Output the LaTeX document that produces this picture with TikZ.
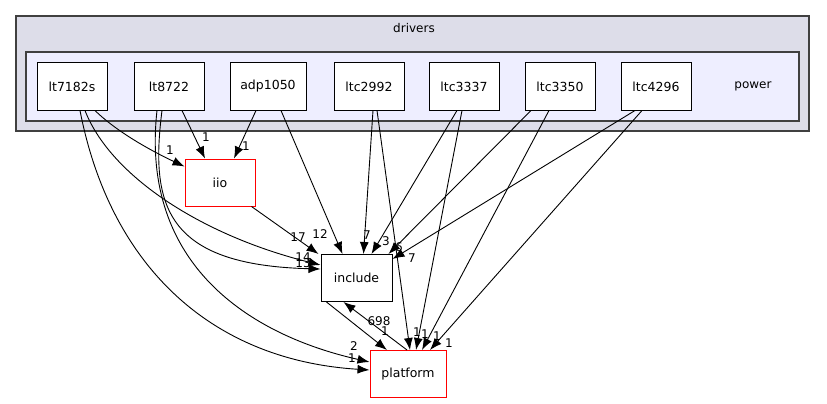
\documentclass[tikz,border=0pt]{standalone}
\usepackage{fontspec}
\setmainfont{DejaVu Sans}
\usetikzlibrary{arrows.meta}
\definecolor{outerfill}{RGB}{221,221,233}
\definecolor{innerfill}{RGB}{238,238,255}
\definecolor{clusterline}{RGB}{64,64,64}

\begin{document}
\begin{tikzpicture}[
  x=1pt, y=-1pt,
  dirbox/.style={draw, line width=1pt, fill=white, minimum width=70pt, minimum height=47pt, inner sep=0pt, font=\fontsize{12.5}{14}\selectfont},
  extbox/.style={dirbox, draw=red},
  dep/.style={draw, line width=0.9pt, -{Latex[length=12pt,width=9pt]}},
  lbl/.style={font=\fontsize{12}{14}\selectfont, inner sep=0pt}
]
\useasboundingbox (0,0) rectangle (827,404);

% clusters
\draw[fill=outerfill, draw=clusterline, line width=1.3pt] (16,16) rectangle (809,131);
\node[lbl] (drivers) at (414,28) {drivers};
\draw[fill=innerfill, draw=clusterline, line width=1.3pt] (26,52) rectangle (799,121);
\node[lbl] (power) at (753,86) {power};

% directories
\node[dirbox] (lt7182s) at (72,86.5) {lt7182s};
\node[dirbox] (lt8722) at (169,86.5) {lt8722};
\node[dirbox, minimum width=76pt] (adp1050) at (268,86.5) {adp1050};
\node[dirbox] (ltc2992) at (369,86.5) {ltc2992};
\node[dirbox] (ltc3337) at (464,86.5) {ltc3337};
\node[dirbox] (ltc3350) at (560,86.5) {ltc3350};
\node[dirbox] (ltc4296) at (656,86.5) {ltc4296};
\node[extbox] (iio) at (220,182.5) {iio};
\node[dirbox, minimum width=71pt] (include) at (356.5,278) {include};
\node[extbox, minimum width=76pt] (platform) at (408,374) {platform};

% dependencies
\draw[dep] ([xshift=23pt]lt7182s.south) .. controls (120,135) and (160,155) .. ([yshift=-8pt]iio.north west);
\draw[dep] ([xshift=13pt]lt7182s.south) .. controls (110,175) and (200,235) .. ([yshift=-11pt]include.north west);
\draw[dep] ([xshift=8pt]lt7182s.south) .. controls (110,265) and (210,360) .. ([yshift=-20pt]platform.north west);
\draw[dep] ([xshift=13pt]lt8722.south) -- ([xshift=-15pt]iio.north);
\draw[dep] ([xshift=-7pt]lt8722.south) .. controls (150,205) and (165,265) .. ([yshift=-15pt]include.north west);
\draw[dep] ([xshift=-12pt]lt8722.south) .. controls (140,265) and (250,335) .. ([yshift=-12pt]platform.north west);
\draw[dep] ([xshift=-12pt]adp1050.south) -- ([xshift=14pt]iio.north);
\draw[dep] ([xshift=13pt]adp1050.south) -- ([xshift=-14pt]include.north);
\draw[dep] ([xshift=4pt]ltc2992.south) -- ([xshift=7pt]include.north);
\draw[dep] ([xshift=8pt]ltc2992.south) -- ([xshift=2pt]platform.north);
\draw[dep] ([xshift=-7pt]ltc3337.south) -- ([xshift=15pt]include.north);
\draw[dep] ([xshift=-2pt]ltc3337.south) -- ([xshift=8pt]platform.north);
\draw[dep] ([xshift=-29pt]ltc3350.south) -- ([xshift=-4pt]include.north east);
\draw[dep] ([xshift=-11pt]ltc3350.south) -- ([xshift=14pt]platform.north);
\draw[dep] ([xshift=-21pt]ltc4296.south) -- ([yshift=-5pt]include.north east);
\draw[dep] ([xshift=-14pt]ltc4296.south) -- ([xshift=22pt]platform.north);
\draw[dep] ([xshift=-4pt]iio.south east) -- ([xshift=-2pt]include.north west);
\draw[dep] ([xshift=6pt]include.south west) -- ([xshift=-21pt]platform.north);
\draw[dep] ([xshift=-1pt]platform.north) -- ([xshift=23pt]include.south west);

% labels
\node[lbl] (n1) at (170,150) {1};
\node[lbl] (n2) at (206,137) {1};
\node[lbl] (n3) at (246,146) {1};
\node[lbl] (n4) at (298,237) {17};
\node[lbl] (n5) at (303,257) {14};
\node[lbl] (n6) at (303,263) {13};
\node[lbl] (n7) at (320,234) {12};
\node[lbl] (n8) at (367,235) {7};
\node[lbl] (n9) at (386,241) {3};
\node[lbl] (n10) at (399,247) {6};
\node[lbl] (n11) at (412,258) {7};
\node[lbl] (n12) at (354,346) {2};
\node[lbl] (n13) at (352,358) {1};
\node[lbl] (n14) at (379,321) {698};
\node[lbl] (n15) at (385,331) {1};
\node[lbl] (n16) at (417,332) {1};
\node[lbl] (n17) at (425,334) {1};
\node[lbl] (n18) at (437,336) {1};
\node[lbl] (n19) at (449,343) {1};
\end{tikzpicture}
\end{document}
